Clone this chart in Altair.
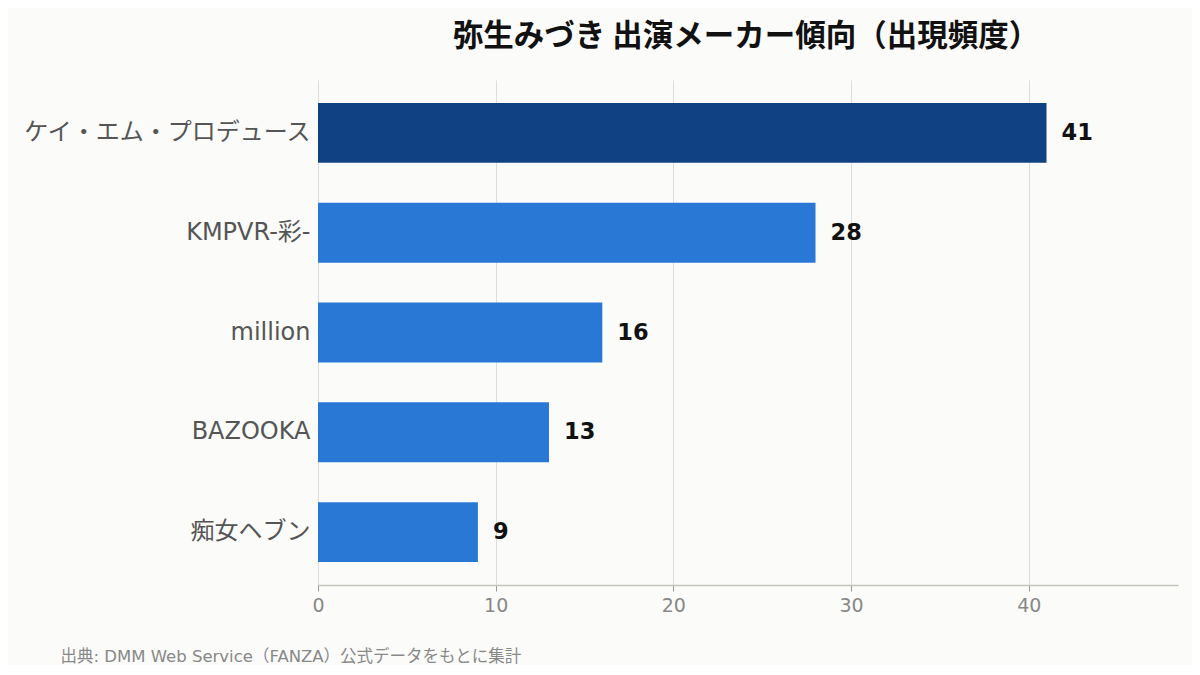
import altair as alt
import pandas as pd

makers = ["ケイ・エム・プロデュース", "KMPVR-彩-", "million", "BAZOOKA", "痴女ヘブン"]
counts = [41, 28, 16, 13, 9]
highlight = [True, False, False, False, False]

df = pd.DataFrame({"maker": makers, "count": counts, "top": highlight})

FONT = "DejaVu Sans, Noto Sans CJK JP"
FONT_T = "Noto Sans CJK JP"

x_enc = alt.X(
    "count:Q",
    scale=alt.Scale(domain=[0, 48.4], nice=False),
    axis=alt.Axis(
        values=[0, 10, 20, 30, 40],
        title="出典: DMM Web Service（FANZA）公式データをもとに集計",
        titleFont=FONT, titleFontSize=16.5, titleFontWeight="normal", titleColor="#888888",
        titleAnchor="start", titleX=-258, titleY=71, titleBaseline="middle",
        labelFont=FONT, labelFontSize=19, labelColor="#888888", labelPadding=5,
        labelFlush=False,
        domainColor="#c4c4bc", domainWidth=1.5,
        tickColor="#999999", tickSize=6,
        grid=True, gridColor="#dddddd", gridWidth=1,
    ),
)
y_enc = alt.Y(
    "maker:N",
    sort=makers,
    scale=alt.Scale(paddingInner=0.4, paddingOuter=0.23),
    axis=alt.Axis(
        title=None, labelFont=FONT, labelFontSize=24, labelColor="#555555",
        labelPadding=8, labelLimit=400, ticks=False, domain=False, grid=False,
        minExtent=310, maxExtent=310,
    ),
)

bars = alt.Chart(df).mark_bar().encode(
    x=x_enc,
    y=y_enc,
    color=alt.Color("top:N", scale=alt.Scale(domain=[True, False], range=["#104283", "#2a78d6"]), legend=None),
)

labels = alt.Chart(df).mark_text(
    align="left", baseline="middle", dx=15, font=FONT, fontSize=22.5, fontWeight="bold", color="#111111"
).encode(
    x="count:Q",
    y=alt.Y("maker:N", sort=makers),
    text="count:Q",
)

chart = (
    alt.layer(bars, labels)
    .properties(
        width=860,
        height=505,
        padding={"left": 0, "top": 14, "right": 14, "bottom": 0},
        background="#fbfbf9",
        title=alt.TitleParams(
            "弥生みづき 出演メーカー傾向（出現頻度）",
            font=FONT_T, fontSize=30.5, fontWeight="bold", color="#111111",
            anchor="middle", frame="group", offset=27.5, dx=-2,
        ),
    )
    .configure_view(stroke=None)
)

chart.save("out.html", embed_options={"renderer": "svg", "actions": False})
